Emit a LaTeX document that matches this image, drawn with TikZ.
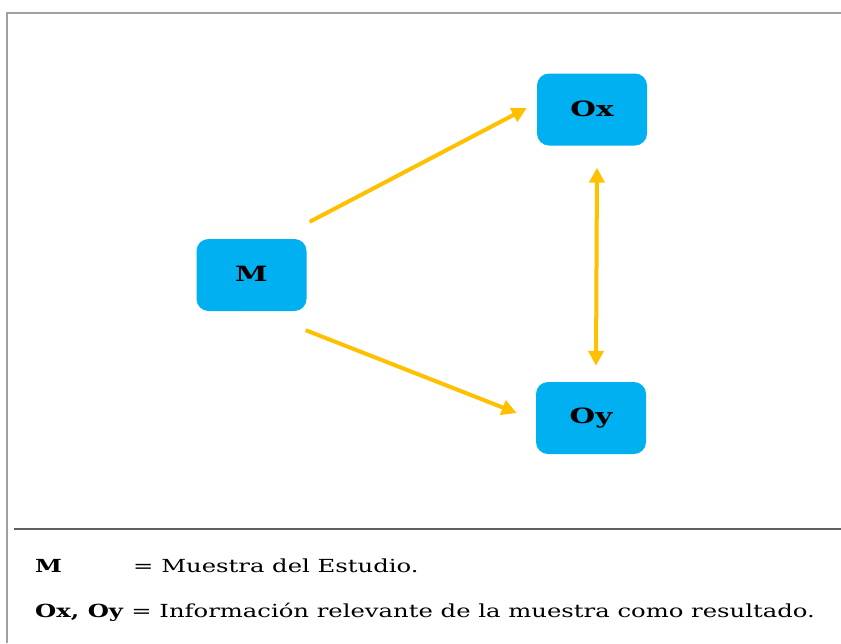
\documentclass[tikz,border=0pt]{standalone}
\usepackage{fontspec}
\setmainfont{DejaVu Serif}
\newfontfamily\nodefont[FakeStretch=1.4]{DejaVu Serif}
\newfontfamily\legendfont[FakeStretch=1.35]{DejaVu Serif}
\usetikzlibrary{arrows.meta}
\definecolor{boxblue}{HTML}{00B0F0}
\definecolor{arrowgold}{HTML}{FFC000}
\definecolor{framegray}{HTML}{A0A0A0}
\definecolor{rulegray}{HTML}{606060}
\tikzset{
  box/.style={fill=boxblue, rounded corners=12pt, minimum width=110pt, minimum height=72pt, inner sep=0pt, font=\nodefont\fontsize{21}{25}\selectfont\bfseries, text=black},
  conn/.style={draw=arrowgold, line width=4pt, -{Triangle[length=15pt,width=15pt]}},
  biconn/.style={draw=arrowgold, line width=4pt, {Triangle[length=15pt,width=15pt]}-{Triangle[length=15pt,width=15pt]}},
  legend/.style={anchor=base west, inner sep=0pt, font=\legendfont\fontsize{18}{22}\selectfont, text=black}
}
\begin{document}
\begin{tikzpicture}[x=1pt,y=-1pt]
\useasboundingbox (0,0) rectangle (841,643);
\fill[white] (0,0) rectangle (841,643);
% frame
\draw[framegray, line width=2pt] (6,12.5) -- (841,12.5);
\draw[framegray, line width=2pt] (7,12) -- (7,643);
\draw[rulegray, line width=1.5pt] (14,529) -- (841,529);
% nodes
\node[box] (M) at (251.5,275) {\raisebox{2pt}{M}};
\node[box] (Ox) at (592,109.5) {\raisebox{2pt}{Ox}};
\node[box] (Oy) at (591,418) {\raisebox{2pt}{Oy}};
% connectors
\draw[conn] ([shift={(3,-17)}]M.north east) -- ([shift={(-10,-1.5)}]Ox.west);
\draw[conn] ([shift={(-1,19)}]M.south east) -- ([shift={(-19,-5)}]Oy.west);
\draw[biconn] ([shift={(5,22)}]Ox.south) -- ([shift={(5,-16)}]Oy.north);
% legend
\node[legend] (lm) at (35,572) {\textbf{M}};
\node[legend] (lmt) at (133,572) {= Muestra del Estudio.};
\node[legend] (lo) at (35,617) {\textbf{Ox, Oy} = Información relevante de la muestra como resultado.};
\end{tikzpicture}
\end{document}
